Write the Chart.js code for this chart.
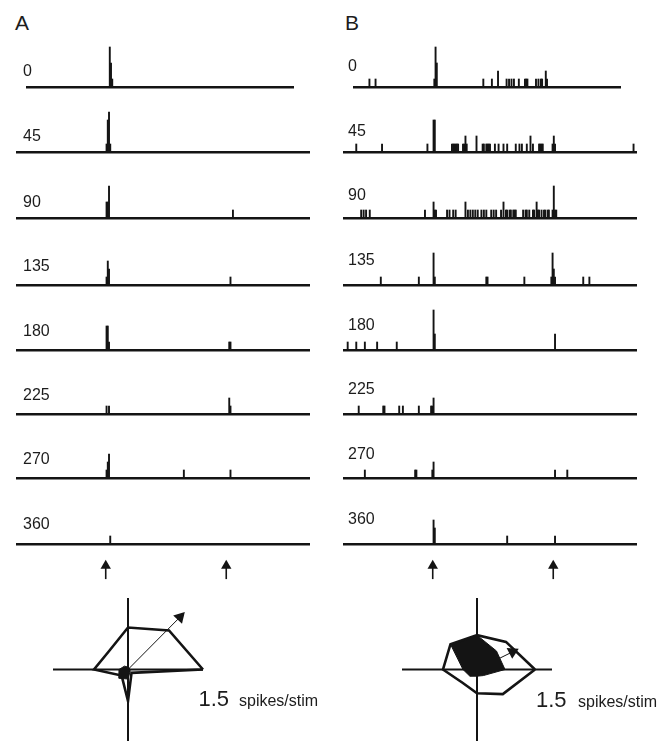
<!DOCTYPE html>
<html>
<head>
<meta charset="utf-8">
<script src="https://cdn.jsdelivr.net/npm/chart.js@4.4.1/dist/chart.umd.min.js"></script>
<style>
  body { margin: 0; background: #fff; }
  #fig { position: relative; width: 667px; height: 748px; overflow: hidden;
         font-family: "Liberation Sans", Arial, sans-serif; color: #1c1c1c; }
  #fig canvas { position: absolute; }
  .t { position: absolute; line-height: 1; white-space: nowrap; }
</style>
</head>
<body>
<div id="fig"></div>
<script>
// stimulus direction of each row, stimulus onsets (ms)
const angles = ['0', '45', '90', '135', '180', '225', '270', '360']
const stimTimes = [355, 860]

// spike counts per 5 ms bin: [time ms, count]
const a0 = [[380, 5], [385, 3], [390, 1]]
const a45 = [[365, 1], [370, 4], [375, 5], [380, 1]]
const a90 = [[365, 2], [370, 2], [375, 4], [880, 1]]
const a135 = [[365, 1], [370, 3], [375, 2], [870, 1]]
const a180 = [[365, 3], [370, 3], [375, 1], [865, 1], [870, 1]]
const a225 = [[365, 1], [375, 1], [865, 2], [870, 1]]
const a270 = [[365, 1], [370, 2], [375, 3], [680, 1], [870, 1]]
const a360 = [[380, 1]]

const b0 = [[105, 1], [130, 1], [370, 1], [375, 5], [380, 3], [570, 1], [605, 1], [630, 2],
  [665, 1], [675, 1], [685, 1], [695, 1], [715, 1], [740, 1], [745, 1], [750, 1],
  [785, 1], [795, 1], [805, 1], [810, 1], [825, 2], [830, 1]]
const b45 = [[50, 1], [155, 1], [340, 1], [365, 4], [370, 4], [440, 1], [445, 1], [450, 1],
  [455, 1], [460, 1], [465, 1], [485, 1], [490, 1], [495, 2], [500, 1], [540, 2], [565, 1],
  [570, 1], [580, 1], [585, 1], [590, 1], [595, 1], [615, 1], [630, 1], [650, 1], [665, 1],
  [700, 1], [715, 1], [725, 1], [745, 1], [760, 2], [770, 1], [795, 1], [800, 1], [805, 1],
  [810, 1], [850, 1], [855, 2], [860, 1], [1180, 1]]
const b90 = [[70, 1], [80, 1], [90, 1], [105, 1], [330, 1], [365, 2], [370, 1], [375, 1],
  [420, 1], [430, 1], [445, 1], [455, 1], [495, 2], [505, 1], [515, 1], [525, 1], [535, 1],
  [545, 1], [560, 1], [570, 1], [580, 1], [600, 1], [610, 1], [620, 1], [640, 1], [650, 2],
  [660, 1], [665, 1], [675, 1], [680, 1], [690, 1], [695, 1], [700, 1], [730, 1], [740, 1],
  [745, 1], [755, 1], [770, 1], [775, 1], [785, 2], [790, 1], [795, 1], [805, 1], [815, 1],
  [820, 1], [830, 1], [835, 1], [850, 1], [855, 4], [860, 1], [865, 1]]
const b135 = [[150, 1], [305, 1], [365, 4], [370, 1], [580, 1], [585, 1], [735, 1], [845, 1],
  [850, 4], [855, 2], [860, 1], [975, 1], [1000, 1]]
const b180 = [[15, 1], [50, 1], [85, 1], [135, 1], [215, 1], [365, 5], [370, 2], [860, 2]]
const b225 = [[60, 1], [160, 1], [165, 1], [225, 1], [240, 1], [305, 1], [355, 1], [360, 1], [365, 2]]
const b270 = [[85, 1], [290, 1], [295, 1], [360, 1], [365, 2], [860, 1], [910, 1]]
const b360 = [[365, 3], [370, 2], [665, 1], [860, 1]]

const rowsA = [a0, a45, a90, a135, a180, a225, a270, a360]
const rowsB = [b0, b45, b90, b135, b180, b225, b270, b360]

// time axis of the rows (ms); the first row was recorded over a shorter window
const timeRange = [0, 1190]
const firstRowRange = [42, 1128]

// polar plots, radius in spikes/stim
const polarAngles = [0, 45, 90, 135, 180, 225, 270, 315]
const outlineA = [1.50, 1.16, 0.88, 0.54, 0.68, 0.18, 0.66, 0.10]
const filledA = [0.04, 0.04, 0.05, 0.10, 0.18, 0.26, 0.20, 0.06]
const vectorA = [1.04, 1.10]
const outlineB = [1.16, 0.82, 0.72, 0.75, 0.68, 0.40, 0.50, 0.73]
const filledB = [0.56, 0.55, 0.72, 0.75, 0.28, 0.20, 0.14, 0.18]
const vectorB = [0.71, 0.37]
const scaleBar = 1.5

const INK = '#141414'
const fig = document.getElementById('fig')
const AXIS_W = 292
const PX_PER_MS = AXIS_W / (timeRange[1] - timeRange[0])
const rowBase = [87, 152, 218, 285, 350, 414, 478, 544]

function addCanvas(left, top, w, h) {
  const c = document.createElement('canvas')
  c.width = w
  c.height = h
  c.style.left = left + 'px'
  c.style.top = top + 'px'
  c.style.width = w + 'px'
  c.style.height = h + 'px'
  fig.appendChild(c)
  return c
}

function addText(str, left, baseline, size) {
  const d = document.createElement('div')
  d.className = 't'
  d.textContent = str
  d.style.left = left + 'px'
  d.style.top = (baseline - size * 0.8465) + 'px'
  d.style.fontSize = size + 'px'
  fig.appendChild(d)
}

const baseOptions = {
  responsive: false,
  animation: false,
  events: [],
  plugins: { legend: { display: false }, tooltip: { enabled: false } }
}

function rasterChart(colLeft, baseline, spikes, range) {
  const left = colLeft + Math.round((range[0] - timeRange[0]) * PX_PER_MS)
  const width = Math.round((range[1] - range[0]) * PX_PER_MS)
  const canvas = addCanvas(left - 2, baseline - 46, width + 4, 48)
  new Chart(canvas, {
    type: 'bar',
    data: {
      datasets: [{
        data: spikes.map(([t, n]) => ({ x: t, y: n })),
        backgroundColor: INK,
        borderWidth: 0,
        barThickness: 1.25
      }]
    },
    options: {
      ...baseOptions,
      layout: { padding: { top: 2, bottom: 2, left: 2, right: 2 } },
      scales: {
        x: {
          type: 'linear', min: range[0], max: range[1], offset: false,
          grid: { display: false, drawTicks: false },
          ticks: { display: false },
          border: { display: true, width: 2.6, color: INK }
        },
        y: { display: false, min: 0, max: 5.5 }
      }
    }
  })
}

function stimChart(colLeft) {
  const canvas = addCanvas(colLeft - 2, 550, AXIS_W + 4, 40)
  new Chart(canvas, {
    type: 'scatter',
    data: {
      datasets: stimTimes.map(t => ({
        data: [{ x: t, y: 0.175 }, { x: t, y: 0.65 }],
        showLine: true,
        borderColor: INK,
        borderWidth: 1.6,
        backgroundColor: INK,
        pointStyle: 'triangle',
        pointRadius: [0, 6],
        pointBorderWidth: 0,
        clip: false
      }))
    },
    options: {
      ...baseOptions,
      layout: { padding: { left: 2, right: 2, top: 0, bottom: 0 } },
      scales: {
        x: { display: false, min: timeRange[0], max: timeRange[1] },
        y: { display: false, min: 0, max: 1 }
      }
    }
  })
}

function polygon(radii) {
  const pts = polarAngles.map((a, i) => ({
    x: radii[i] * Math.cos(a * Math.PI / 180),
    y: radii[i] * Math.sin(a * Math.PI / 180)
  }))
  pts.push(pts[0])
  return pts
}

function polarChart(cx, cy, outline, filled, vector) {
  const half = 75
  const canvas = addCanvas(cx - half - 13, cy - half - 8, 2 * half + 26, 158)
  const rot = 90 - Math.atan2(vector[1], vector[0]) * 180 / Math.PI
  const line = { showLine: true, pointRadius: 0, borderColor: INK, clip: false }
  new Chart(canvas, {
    type: 'scatter',
    data: {
      datasets: [
        { ...line, data: [{ x: 0, y: 0 }, { x: vector[0], y: vector[1] }], borderWidth: 1,
          pointRadius: [0, 7], pointStyle: 'triangle', pointRotation: [0, rot],
          backgroundColor: INK, pointBorderWidth: 0 },
        { ...line, data: polygon(outline), borderWidth: 2.6, borderJoinStyle: 'miter' },
        { ...line, data: polygon(filled), borderWidth: 1, fill: 'shape', backgroundColor: INK },
        { ...line, data: [{ x: -scaleBar, y: 0 }, { x: scaleBar, y: 0 }], borderWidth: 2 },
        { ...line, data: [{ x: 0, y: -scaleBar }, { x: 0, y: scaleBar }], borderWidth: 2 }
      ]
    },
    options: {
      ...baseOptions,
      layout: { padding: { left: 13, right: 13, top: 8, bottom: 0 } },
      scales: {
        x: { display: false, min: -scaleBar, max: scaleBar },
        y: { display: false, min: -scaleBar, max: scaleBar }
      }
    }
  })
}

const columns = [
  { key: 'A', left: 17, rows: rowsA, labelLeft: 23, letterLeft: 15, letterBase: 30,
    labelBase: [77, 142, 208, 272, 337, 401, 465, 530],
    polar: [128, 673, outlineA, filledA, vectorA], scaleText: [198.5, 239, 707] },
  { key: 'B', left: 344, rows: rowsB, labelLeft: 348, letterLeft: 345, letterBase: 30,
    labelBase: [72, 137, 201, 266, 331, 395, 460, 525],
    polar: [477, 673, outlineB, filledB, vectorB], scaleText: [536, 578, 708] }
]

columns.forEach(col => {
  addText(col.key, col.letterLeft, col.letterBase, 21)
  col.rows.forEach((spikes, i) => {
    rasterChart(col.left, rowBase[i], spikes, i === 0 ? firstRowRange : timeRange)
    addText(angles[i], col.labelLeft, col.labelBase[i], 16)
  })
  stimChart(col.left)
  polarChart(...col.polar)
  const [numLeft, unitLeft, base] = col.scaleText
  addText(String(scaleBar), numLeft, base, 22)
  addText('spikes/stim', unitLeft, base, 16)
})
</script>
</body>
</html>
